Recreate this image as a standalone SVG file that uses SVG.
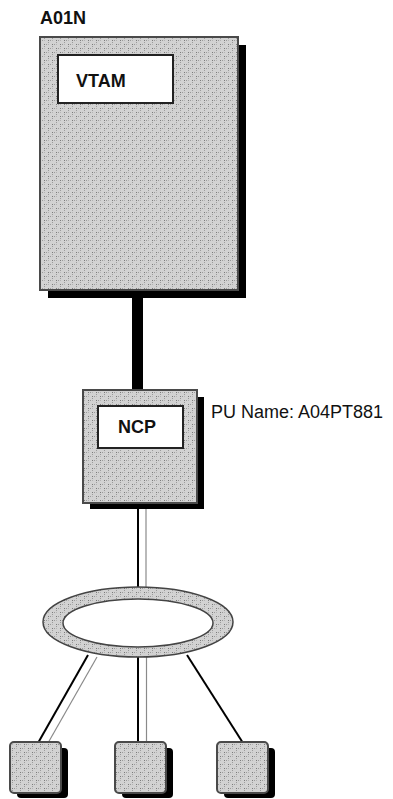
<svg xmlns="http://www.w3.org/2000/svg" width="393" height="799" viewBox="0 0 393 799">
  <defs>
    <pattern id="dots" width="8" height="8" patternUnits="userSpaceOnUse">
      <rect width="8" height="8" fill="#d2d2d2"/>
      <rect x="0" y="0" width="1" height="1" fill="#7a7a7a"/>
      <rect x="2" y="0" width="1" height="1" fill="#9a9a9a"/>
      <rect x="0" y="2" width="1" height="1" fill="#9a9a9a"/>
      <rect x="4" y="4" width="1" height="1" fill="#7a7a7a"/>
      <rect x="6" y="4" width="1" height="1" fill="#9a9a9a"/>
      <rect x="4" y="6" width="1" height="1" fill="#9a9a9a"/>
      <rect x="4" y="0" width="1" height="1" fill="#b4b4b4"/>
      <rect x="0" y="4" width="1" height="1" fill="#b4b4b4"/>
    </pattern>
  </defs>
  <style>
    .shadow { fill: #000; }
    .box { fill: url(#dots); stroke: #4a4a4a; stroke-width: 2; }
    .inner { fill: #fff; stroke: #222; stroke-width: 2; }
    .lbl { font-family: "Liberation Sans", Arial, sans-serif; font-size: 18px; font-weight: bold; fill: #111; }
    .txt { font-family: "Liberation Sans", Arial, sans-serif; font-size: 18px; fill: #111; }
    .blk { stroke: #000; stroke-width: 2; fill: none; }
    .gry { stroke: #8a8a8a; stroke-width: 1.2; fill: none; }
  </style>

  <g id="connectors">
    <rect x="132" y="296" width="11" height="95" fill="#000"/>
    <line class="blk" x1="138" y1="508" x2="138" y2="588"/>
    <line class="gry" x1="146" y1="508" x2="146" y2="588"/>
    <line class="blk" x1="88" y1="655" x2="38" y2="743"/>
    <line class="gry" x1="97" y1="657" x2="48" y2="743"/>
    <line class="blk" x1="138" y1="656" x2="138" y2="743"/>
    <line class="gry" x1="146.5" y1="656" x2="146.5" y2="743"/>
    <line class="blk" x1="187" y1="655" x2="243" y2="743"/>
  </g>

  <g id="A01N">
    <rect class="shadow" x="48" y="45" width="198" height="253"/>
    <rect class="box" x="40" y="37" width="198" height="253"/>
    <text class="lbl" x="40" y="24">A01N</text>
  </g>

  <g id="VTAM">
    <rect class="inner" x="58" y="55" width="115" height="48"/>
    <text class="lbl" x="76" y="87">VTAM</text>
  </g>

  <g id="NCP-box">
    <rect class="shadow" x="90" y="397" width="114" height="112"/>
    <rect class="box" x="83" y="390" width="114" height="113"/>
    <text class="txt" x="211" y="418">PU Name: A04PT881</text>
  </g>

  <g id="NCP">
    <rect class="inner" x="98" y="406" width="85" height="42"/>
    <text class="lbl" x="118" y="433">NCP</text>
  </g>

  <g id="ring">
    <path d="M43,622 a95,35 0 1,0 190,0 a95,35 0 1,0 -190,0 Z M63,623 a75,24 0 1,0 150,0 a75,24 0 1,0 -150,0 Z" fill="url(#dots)" fill-rule="evenodd" stroke="#444" stroke-width="1.5"/>
  </g>

  <g id="terminal-1">
    <rect class="shadow" x="17" y="748" width="51" height="50" rx="4"/>
    <rect class="box" x="10" y="742" width="51" height="51" rx="4"/>
  </g>
  <g id="terminal-2">
    <rect class="shadow" x="122" y="748" width="51" height="50" rx="4"/>
    <rect class="box" x="115" y="742" width="51" height="51" rx="4"/>
  </g>
  <g id="terminal-3">
    <rect class="shadow" x="224" y="748" width="51" height="50" rx="4"/>
    <rect class="box" x="217" y="742" width="51" height="51" rx="4"/>
  </g>
</svg>
